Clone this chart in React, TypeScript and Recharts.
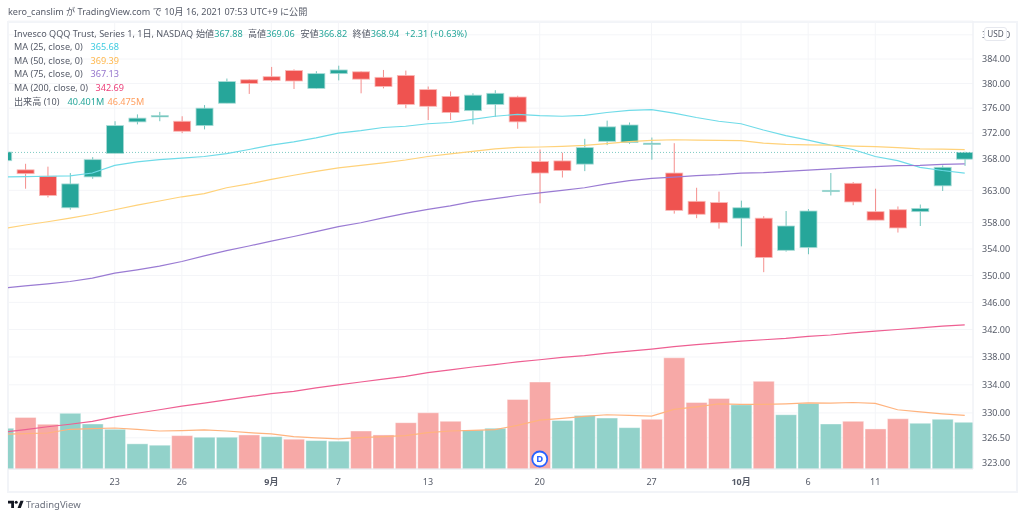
import {
  ComposedChart,
  Bar,
  Line,
  XAxis,
  YAxis,
  CartesianGrid,
  ReferenceLine,
  ReferenceDot,
  Cell,
} from "recharts";

// QQQ daily candles (first one is cut by the left edge)
const opens = [367.64, 366.2, 365.2, 360.3, 365.1, 368.8, 373.8, 374.6, 373.9, 373.2, 376.8, 380.6, 381.1, 382.1, 379.2, 381.6, 381.9, 381.0, 381.3, 379.0, 377.9, 375.6, 376.6, 377.8, 367.5, 367.6, 367.1, 370.7, 370.5, 370.2, 365.7, 361.3, 361.1, 358.7, 358.7, 353.8, 354.2, 362.8, 364.1, 359.7, 360.0, 359.7, 363.7, 367.88];
const highs = [369.1, 367.15, 366.7, 365.7, 368.2, 373.9, 375.0, 375.4, 374.7, 376.5, 380.8, 380.7, 382.7, 382.3, 382.0, 382.9, 382.0, 382.2, 382.1, 379.5, 378.7, 378.4, 378.9, 378.0, 369.4, 368.9, 371.1, 374.0, 373.7, 371.3, 370.4, 363.4, 362.8, 361.4, 359.0, 359.8, 360.1, 365.7, 364.3, 363.25, 360.5, 360.8, 366.9, 369.06];
const lows = [367.6, 363.25, 361.9, 360.0, 364.8, 368.8, 373.4, 373.9, 372.0, 372.6, 376.8, 378.3, 380.3, 379.1, 379.1, 380.5, 378.4, 379.2, 376.0, 374.1, 374.1, 373.4, 374.6, 372.7, 361.0, 365.0, 366.0, 370.1, 370.3, 367.8, 359.4, 358.7, 357.1, 354.4, 350.5, 353.6, 353.2, 362.2, 360.7, 358.4, 356.5, 357.5, 362.9, 366.82];
const closes = [369.0, 365.6, 362.2, 364.0, 367.8, 373.2, 374.4, 374.8, 372.3, 376.0, 380.3, 380.0, 380.5, 380.4, 381.6, 382.2, 380.7, 379.5, 376.6, 376.3, 375.3, 378.1, 378.4, 373.8, 365.7, 366.1, 369.7, 373.0, 373.3, 370.4, 359.9, 359.3, 358.0, 360.3, 352.7, 357.5, 359.8, 363.0, 361.2, 358.4, 357.2, 360.2, 366.6, 368.94];

const ma25 = [365.1, 365.15, 365.2, 365.25, 365.7, 366.9, 367.45, 367.8, 368.05, 368.3, 368.75, 369.4, 370.1, 370.6, 371.25, 372.0, 372.4, 372.9, 373.1, 373.5, 373.7, 374.2, 374.7, 375.0, 374.8, 374.7, 374.85, 375.3, 375.65, 375.75, 375.2, 374.5, 373.9, 373.5, 372.5, 371.6, 370.9, 370.1, 369.4, 368.3, 367.65, 366.6, 366.1, 365.68];
const ma50 = [357.1, 357.65, 358.15, 358.7, 359.3, 360.0, 360.7, 361.35, 362.0, 362.5, 363.4, 364.0, 364.7, 365.35, 365.95, 366.5, 366.9, 367.3, 367.75, 368.3, 368.7, 369.1, 369.5, 369.75, 369.8, 369.9, 370.05, 370.35, 370.65, 370.85, 370.95, 370.9, 370.85, 370.8, 370.4, 370.2, 370.15, 370.1, 369.95, 369.85, 369.7, 369.5, 369.45, 369.39];
const ma75 = [348.1, 348.45, 348.75, 349.1, 349.6, 350.35, 350.85, 351.4, 352.1, 352.95, 353.75, 354.45, 355.2, 355.9, 356.65, 357.4, 358.0, 358.75, 359.45, 360.05, 360.6, 361.25, 361.7, 362.2, 362.6, 363.0, 363.4, 364.0, 364.5, 364.85, 365.05, 365.3, 365.45, 365.7, 365.75, 365.95, 366.15, 366.35, 366.55, 366.7, 366.85, 366.9, 367.05, 367.13];
const ma200 = [327.3, 327.65, 328.05, 328.4, 328.8, 329.45, 329.95, 330.45, 330.95, 331.4, 331.85, 332.3, 332.75, 333.05, 333.55, 334.0, 334.4, 334.8, 335.2, 335.75, 336.15, 336.55, 336.9, 337.3, 337.6, 337.95, 338.2, 338.55, 338.85, 339.15, 339.5, 339.8, 340.05, 340.3, 340.5, 340.7, 341.0, 341.2, 341.5, 341.75, 342.0, 342.25, 342.5, 342.69];

// volume in millions, 1 = rising bar, 0 = falling bar
const volumes = [35.3, 44.7, 38.7, 48.2, 39.0, 34.4, 21.8, 20.6, 28.9, 27.5, 27.5, 29.5, 28.0, 25.8, 24.6, 24.1, 32.9, 29.5, 40.1, 48.7, 41.3, 33.8, 35.3, 60.2, 75.3, 42.1, 46.4, 44.1, 35.8, 43.0, 96.3, 57.6, 61.1, 55.6, 75.9, 47.0, 56.8, 39.0, 41.3, 34.7, 43.5, 39.6, 43.0, 40.401];
const volumeUp = [1, 0, 0, 1, 1, 1, 1, 1, 0, 1, 1, 0, 1, 0, 1, 1, 0, 0, 0, 0, 0, 1, 1, 0, 0, 1, 1, 1, 1, 0, 0, 0, 0, 1, 0, 1, 1, 1, 0, 0, 0, 1, 1, 1];
const volumeMa = [30.1, 30.6, 31.2, 34.4, 34.9, 35.5, 34.4, 32.9, 33.2, 33.8, 32.9, 31.5, 30.4, 28.0, 26.9, 26.1, 27.2, 28.0, 28.9, 31.5, 32.9, 33.5, 34.1, 37.8, 42.4, 43.9, 45.6, 47.0, 46.4, 45.8, 51.6, 53.8, 56.4, 55.9, 55.9, 56.4, 57.3, 57.0, 57.6, 56.8, 51.3, 49.5, 47.8, 46.475];

const priceTicks = [323, 326.5, 330, 334, 338, 342, 346, 350, 354, 358, 363, 368, 372, 376, 380, 384, 388];
const dateTickIndex = [5, 8, 12, 15, 19, 24, 29, 33, 36, 39];
const dateTickLabels = ["23", "26", "9月", "7", "13", "20", "27", "10月", "6", "11"];
const monthLabels = ["9月", "10月"];

const lastClose = 368.94;
const dividendIndex = 24;
const dividendMarkerPrice = 323.55;

const UP = "#26a69a";
const DOWN = "#ef5350";
const FONT = '"Noto Sans", "Noto Sans CJK JP", sans-serif';
const TEXT = "#565b68";

const rows = opens.map((open, i) => ({
  i,
  open,
  high: highs[i],
  low: lows[i],
  close: closes[i],
  ma25: ma25[i],
  ma50: ma50[i],
  ma75: ma75[i],
  ma200: ma200[i],
  volume: volumes[i],
  volumeMa: volumeMa[i],
}));

const xDomain: [number, number] = [0.228, 43.37];

// the bar spans low..high on the log axis, so open/close are placed inside it
function Candle(props: any) {
  const { x, y, width, height, payload } = props;
  const { open, high, low, close } = payload;
  const span = Math.log(high) - Math.log(low);
  const yOf = (p: number) => y + (height * (Math.log(high) - Math.log(p))) / span;
  const up = close >= open;
  const color = up ? UP : DOWN;
  const top = yOf(Math.max(open, close));
  const bottom = yOf(Math.min(open, close));
  const cx = x + width / 2;
  return (
    <g>
      <line x1={cx} x2={cx} y1={y} y2={y + height} stroke={color} strokeOpacity={0.65} />
      <rect
        x={x}
        y={top}
        width={width}
        height={Math.max(bottom - top, 1)}
        fill={color}
        stroke={up ? "#a8dbd6" : "#f9b9b7"}
        strokeWidth={0.8}
      />
    </g>
  );
}

function DateTick(props: any) {
  const { x, y, payload } = props;
  const label = dateTickLabels[dateTickIndex.indexOf(payload.value)];
  return (
    <text
      x={x}
      y={y}
      dy={8}
      textAnchor="middle"
      fontSize={9}
      fontFamily={FONT}
      fontWeight={monthLabels.includes(label) ? 700 : 400}
      fill={TEXT}
    >
      {label}
    </text>
  );
}

function Legend({ top, left, color, children }: any) {
  return (
    <div
      style={{
        position: "absolute",
        top: top - 7,
        left,
        height: 14,
        lineHeight: "14px",
        whiteSpace: "nowrap",
        fontFamily: FONT,
        fontSize: 9.1,
        color: color ?? TEXT,
      }}
    >
      {children}
    </div>
  );
}

export default function App() {
  return (
    <div
      style={{
        position: "fixed",
        left: 0,
        top: 0,
        width: 1024,
        height: 518,
        background: "#fff",
        filter: "blur(0.3px)",
      }}
    >
      <div
        style={{
          position: "absolute",
          left: 7,
          top: 21,
          width: 1007,
          height: 468,
          border: "2px solid #f2f4f8",
        }}
      />
      <ComposedChart
        width={1024}
        height={518}
        data={rows}
        margin={{ top: 21, right: 8, bottom: 28, left: 8 }}
      >
        <CartesianGrid stroke="#f4f5f8" strokeWidth={1} />
        <XAxis
          dataKey="i"
          type="number"
          domain={xDomain}
          allowDataOverflow
          ticks={dateTickIndex}
          interval={0}
          height={21}
          axisLine={{ stroke: "#e6e8ee" }}
          tickLine={false}
          tick={<DateTick />}
        />
        <XAxis
          xAxisId="vol"
          dataKey="i"
          type="number"
          domain={xDomain}
          allowDataOverflow
          ticks={dateTickIndex}
          hide
        />
        <YAxis
          orientation="right"
          scale="log"
          domain={[322.17, 390.3]}
          allowDataOverflow
          ticks={priceTicks}
          interval={0}
          width={43}
          axisLine={{ stroke: "#eef0f5" }}
          tickLine={false}
          tickFormatter={(v: number) => v.toFixed(2)}
          tick={{ fontSize: 9, fontFamily: FONT, fill: TEXT }}
          tickMargin={3}
        />
        <YAxis yAxisId="vol" orientation="right" domain={[0, 388]} hide />

        <Bar xAxisId="vol" yAxisId="vol" dataKey="volume" barSize={21} stroke="#ffffff" strokeOpacity={0.4} isAnimationActive={false}>
          {rows.map((r) => (
            <Cell key={r.i} fill={volumeUp[r.i] ? "#92d2ca" : "#f7a9a7"} />
          ))}
        </Bar>
        <Line xAxisId="vol" yAxisId="vol" dataKey="volumeMa" stroke="#ffb37e" strokeWidth={1.2} dot={false} isAnimationActive={false} />

        <ReferenceLine y={lastClose} stroke={UP} strokeOpacity={0.6} strokeDasharray="1 2" />

        <Line dataKey="ma200" stroke="#ee5f92" strokeWidth={1.2} dot={false} isAnimationActive={false} />
        <Bar dataKey={(d: any) => [d.low, d.high]} barSize={17} shape={<Candle />} isAnimationActive={false} />
        <Line dataKey="ma25" stroke="#6fdbe8" strokeWidth={1.2} dot={false} isAnimationActive={false} />
        <Line dataKey="ma50" stroke="#ffd27a" strokeWidth={1.2} dot={false} isAnimationActive={false} />
        <Line dataKey="ma75" stroke="#9a7bd3" strokeWidth={1.2} dot={false} isAnimationActive={false} />

        <ReferenceDot
          x={dividendIndex}
          y={dividendMarkerPrice}
          r={7.5}
          fill="#ffffff"
          stroke="#2962ff"
          strokeWidth={1.8}
          label={{ value: "D", position: "center", fill: "#2962ff", fontSize: 9.5, fontWeight: 700, fontFamily: FONT }}
        />
      </ComposedChart>

      <Legend top={12} left={8}>kero_canslim が TradingView.com で 10月 16, 2021 07:53 UTC+9 に公開</Legend>

      <Legend top={33.5} left={14}>Invesco QQQ Trust, Series 1, 1日, NASDAQ</Legend>
      <Legend top={33.5} left={196}>始値<span style={{ color: UP }}>367.88</span></Legend>
      <Legend top={33.5} left={248}>高値<span style={{ color: UP }}>369.06</span></Legend>
      <Legend top={33.5} left={300.5}>安値<span style={{ color: UP }}>366.82</span></Legend>
      <Legend top={33.5} left={352.5}>終値<span style={{ color: UP }}>368.94</span></Legend>
      <Legend top={33.5} left={405} color={UP}>+2.31 (+0.63%)</Legend>

      <Legend top={47} left={14}>MA (25, close, 0)</Legend>
      <Legend top={47} left={90.5} color="#3fcbe0">365.68</Legend>
      <Legend top={60.7} left={14}>MA (50, close, 0)</Legend>
      <Legend top={60.7} left={90.5} color="#ffb84d">369.39</Legend>
      <Legend top={74.4} left={14}>MA (75, close, 0)</Legend>
      <Legend top={74.4} left={90.5} color="#9575cd">367.13</Legend>
      <Legend top={88} left={14}>MA (200, close, 0)</Legend>
      <Legend top={88} left={95.5} color="#ec407a">342.69</Legend>
      <Legend top={102} left={14}>出来高 (10)</Legend>
      <Legend top={102} left={67.5} color={UP}>40.401M</Legend>
      <Legend top={102} left={107.5} color="#ff9f5f">46.475M</Legend>

      <div
        style={{
          position: "absolute",
          left: 984,
          top: 27,
          width: 21,
          height: 12,
          lineHeight: "12px",
          textAlign: "center",
          border: "1px solid #e6e8ee",
          borderRadius: 3,
          background: "#fff",
          fontFamily: FONT,
          fontSize: 8.2,
          color: TEXT,
        }}
      >
        USD
      </div>

      <svg style={{ position: "absolute", left: 8, top: 500 }} width={16} height={9} viewBox="0 0 16 9">
        <path d="M0 0.8H6V8H3.2V3.4H0Z" fill="#131722" />
        <circle cx={8.2} cy={2.2} r={1.5} fill="#131722" />
        <path d="M9.6 8L12.4 0.8H15.6L12.8 8Z" fill="#131722" />
      </svg>
      <Legend top={504.5} left={26} color="#6a6f7c">
        <span style={{ fontSize: 9.5 }}>TradingView</span>
      </Legend>
    </div>
  );
}
